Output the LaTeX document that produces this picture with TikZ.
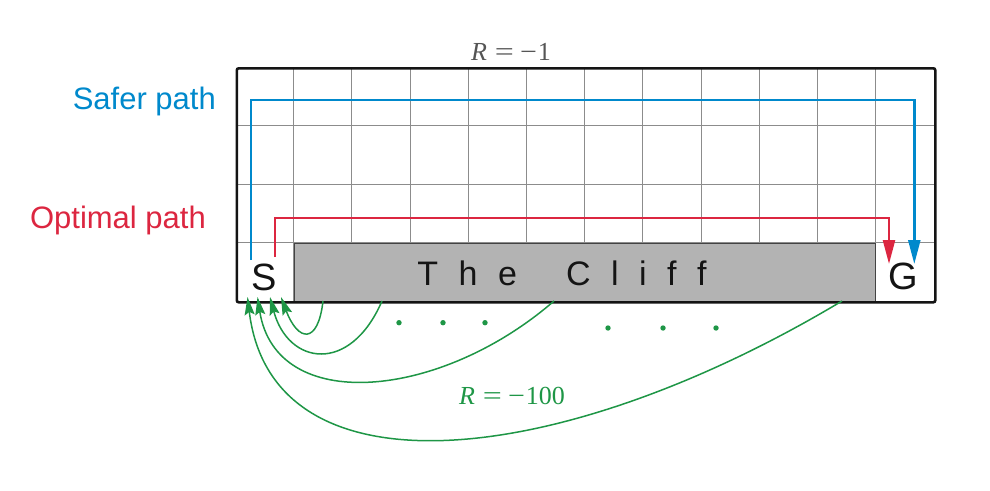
\documentclass[tikz,border=0pt]{standalone}
\usepackage{fontspec}
\usepackage{graphicx}
\setmainfont{Liberation Serif}
\newfontfamily\hsans{Liberation Sans}
\usetikzlibrary{arrows.meta}
\definecolor{safeblue}{RGB}{0,137,204}
\definecolor{optred}{RGB}{220,38,64}
\definecolor{cliffgreen}{RGB}{30,150,70}
\definecolor{cliffgray}{RGB}{179,179,179}
\definecolor{gridgray}{RGB}{140,140,140}
\definecolor{labelgray}{RGB}{85,85,85}
\definecolor{inkblack}{RGB}{20,20,20}
\newcommand\rewardtext[1]{\textit{R}\hspace{8pt}\scalebox{1.3}[1]{=}\hspace{6pt}\scalebox{1.15}[1]{−}\hspace{1pt}#1}
\begin{document}
\begin{tikzpicture}[x=1pt,y=-1pt,
  gridline/.style={gridgray, line width=0.9pt},
  pathline/.style={line width=2.4pt, -{Triangle[length=24pt,width=12pt]}},
  fallarrow/.style={cliffgreen, line width=1.5pt, -{Stealth[length=18pt,width=10pt,inset=3pt]}},
  celltext/.style={font=\hsans\fontsize{38}{38}\selectfont, text=inkblack, inner sep=0pt},
  pathlabel/.style={font=\hsans\fontsize{31}{31}\selectfont, inner sep=0pt},
  rewardlabel/.style={font=\fontsize{26}{26}\selectfont, inner sep=0pt},
  falldot/.style={cliffgreen}
]
\useasboundingbox (0,0) rectangle (990,490);

% grid
\foreach \i in {1,...,11}
  \draw[gridline] ({235.5+58.2*\i},67) -- ({235.5+58.2*\i},301);
\foreach \j in {1,2,3}
  \draw[gridline] (235.5,{67+58.5*\j}) -- (934,{67+58.5*\j});

% cliff
\node[draw=inkblack!80, line width=1pt, fill=cliffgray, minimum width=581pt,
      minimum height=58.5pt, inner sep=0pt, anchor=north west] (cliff) at (294,242.5) {};
\node[font=\hsans\fontsize{34}{34}\selectfont, text=inkblack, inner sep=0pt, anchor=base]
  (clifftext) at (562,285)
  {T\hspace{20.5pt}h\hspace{20.5pt}e\hspace{49pt}C\hspace{20.5pt}l\hspace{20.5pt}i\hspace{20.5pt}f\hspace{20.5pt}f};

% outer border
\node[draw=inkblack, line width=2.6pt, rounded corners=2pt, minimum width=698.5pt,
      minimum height=234pt, inner sep=0pt, anchor=north west] (world) at (235.5,67) {};

% S and G
\node[celltext, anchor=base] (stext) at (264.5,290) {S};
\node[celltext, anchor=base] (gtext) at (903.5,289.5) {G};

% labels
\node[pathlabel, text=safeblue, anchor=base east] (safer) at (216,109) {Safer path};
\node[pathlabel, text=optred, anchor=base east] (optimal) at (206,228) {Optimal path};
\node[rewardlabel, text=labelgray, anchor=base] (rstep) at (511,60) {\rewardtext{1}};
\node[rewardlabel, text=cliffgreen, anchor=base] (rfall) at (512,404) {\rewardtext{100}};

% paths
\coordinate (bstart) at (250.7,260);
\coordinate (bend) at (914.3,264);
\coordinate (rstart) at (275,257);
\coordinate (rend) at (889,264);
\draw[pathline, safeblue] (bstart) -- ++(0,-160) -| (bend);
\draw[pathline, optred] (rstart) -- ++(0,-39.3) -| (rend);

% falls
\coordinate (f1) at (323,301);
\coordinate (f2) at (382,301);
\coordinate (f3) at (554,301);
\coordinate (f4) at (842,301);
\coordinate (t1) at (281,297);
\coordinate (t2) at (270,297);
\coordinate (t3) at (257.5,297);
\coordinate (t4) at (247.5,297);
\draw[fallarrow] (f1) .. controls (318,345) and (298,342) .. (t1);
\draw[fallarrow] (f2) .. controls (350,375) and (288,365) .. (t2);
\draw[fallarrow] (f3) .. controls (440,400) and (276,415) .. (t3);
\draw[fallarrow] (f4) .. controls (560,470) and (272,500) .. (t4);

% dots
\foreach \x in {399,443,485} \fill[falldot] (\x,322.7) circle (2.7);
\foreach \x in {608,663,716} \fill[falldot] (\x,328) circle (2.7);
\end{tikzpicture}
\end{document}
